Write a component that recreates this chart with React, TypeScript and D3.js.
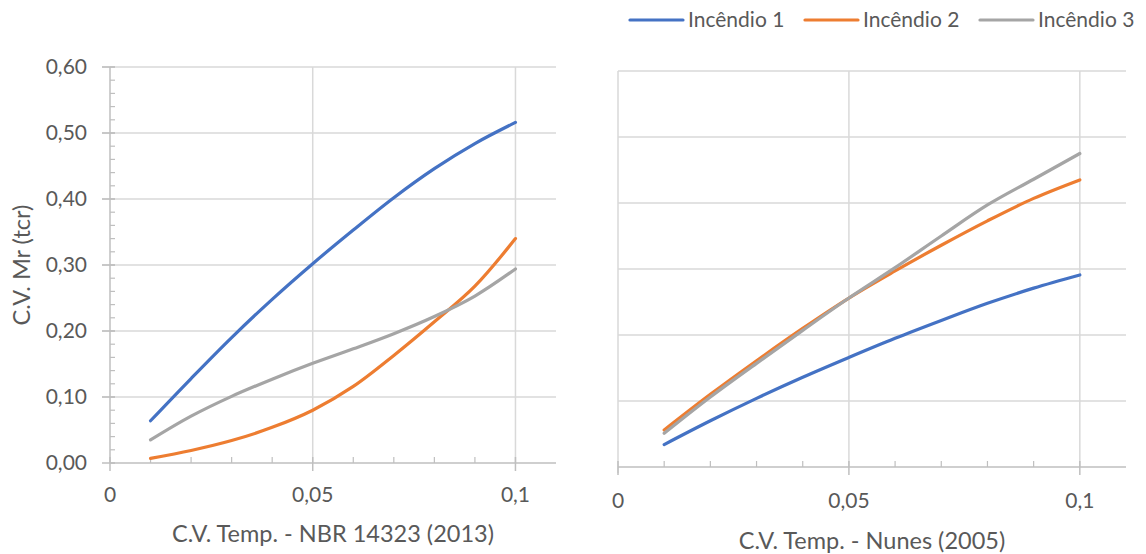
import React from "react";
import * as d3 from "d3";

const xValues = [0.01, 0.02, 0.03, 0.04, 0.05, 0.06, 0.07, 0.08, 0.09, 0.1];
const seriesNames = ["Incêndio 1", "Incêndio 2", "Incêndio 3"];
const colors = ["#4472C4", "#ED7D31", "#A5A5A5"];

// Left: C.V. Temp. - NBR 14323 (2013)
const nbrInc1 = [0.064, 0.128, 0.19, 0.248, 0.302, 0.353, 0.402, 0.446, 0.484, 0.516];
const nbrInc2 = [0.007, 0.019, 0.034, 0.054, 0.08, 0.116, 0.163, 0.214, 0.268, 0.34];
const nbrInc3 = [0.035, 0.071, 0.101, 0.127, 0.151, 0.173, 0.196, 0.222, 0.253, 0.294];

// Right: C.V. Temp. - Nunes (2005)
const nunesInc1 = [0.034, 0.07, 0.104, 0.136, 0.166, 0.195, 0.222, 0.248, 0.271, 0.291];
const nunesInc2 = [0.056, 0.11, 0.161, 0.21, 0.256, 0.297, 0.336, 0.373, 0.407, 0.435];
const nunesInc3 = [0.051, 0.106, 0.157, 0.207, 0.256, 0.302, 0.35, 0.397, 0.436, 0.475];

const yTicks = [0, 0.1, 0.2, 0.3, 0.4, 0.5, 0.6];
const xTicks = [0, 0.05, 0.1];
const yTitle = "C.V. Mr (tcr)";
const leftTitle = "C.V. Temp. - NBR 14323 (2013)";
const rightTitle = "C.V. Temp. - Nunes (2005)";

const FONT = "Lato, 'Open Sans', sans-serif";
const TEXT = "#595959";
const GRID = "#D9D9D9";
const AXIS = "#BFBFBF";
const FS = 21;
const TFS = 23.5;

const fmtX = (v: number) => (v === 0 ? "0" : String(v).replace(".", ","));
const fmtY = (v: number) => v.toFixed(2).replace(".", ",");

type PanelProps = {
  x0: number; x1: number; yTop: number; yBot: number;
  series: number[][]; title: string; showY: boolean; labelY: number; titleY: number;
};

function Panel({ x0, x1, yTop, yBot, series, title, showY, labelY, titleY }: PanelProps) {
  const x = d3.scaleLinear().domain([0, 0.11]).range([x0, x1]);
  const y = d3.scaleLinear().domain([0, 0.6]).range([yBot, yTop]);
  const line = d3
    .line<[number, number]>()
    .x((d) => x(d[0]))
    .y((d) => y(d[1]))
    .curve(d3.curveCatmullRom.alpha(0.5));
  const minorX = d3.range(1, 11).map((i) => i * 0.01).filter((v) => Math.abs(v - 0.05) > 1e-9 && Math.abs(v - 0.1) > 1e-9);
  const minorY = d3.range(0, 31).map((i) => i * 0.02);
  return (
    <g>
      {yTicks.filter((t) => t > 0).map((t) => (
        <line key={"hg" + t} x1={showY ? x0 - 8 : x0} x2={x1} y1={y(t)} y2={y(t)} stroke={GRID} strokeWidth={1.5} />
      ))}
      {xTicks.filter((t) => t > 0).map((t) => (
        <line key={"vg" + t} x1={x(t)} x2={x(t)} y1={yTop} y2={yBot} stroke={GRID} strokeWidth={1.5} />
      ))}
      {showY ? (
        <g>
          <line x1={x0} x2={x0} y1={yTop} y2={yBot} stroke={AXIS} strokeWidth={1.5} />
          {minorY.map((t) => (
            <line key={"my" + t} x1={x0} x2={x0 + 5} y1={y(t)} y2={y(t)} stroke={AXIS} strokeWidth={1.2} />
          ))}
          {yTicks.map((t) => (
            <line key={"My" + t} x1={x0 - 8} x2={x0 + 5} y1={y(t)} y2={y(t)} stroke={AXIS} strokeWidth={1.5} />
          ))}
          {yTicks.map((t) => (
            <text key={"ly" + t} x={87} y={y(t)} dy="0.35em" textAnchor="end" fontSize={FS} fontFamily={FONT} fill={TEXT}>
              {fmtY(t)}
            </text>
          ))}
        </g>
      ) : (
        <line x1={x0} x2={x0} y1={yTop} y2={yBot + 6} stroke={GRID} strokeWidth={1.5} />
      )}
      <line x1={x0} x2={x1} y1={yBot} y2={yBot} stroke={AXIS} strokeWidth={1.5} />
      {minorX.map((t) => (
        <line key={"mx" + t} x1={x(t)} x2={x(t)} y1={yBot - 6} y2={yBot} stroke={AXIS} strokeWidth={1.2} />
      ))}
      {xTicks.map((t) => (
        <line key={"Mx" + t} x1={x(t)} x2={x(t)} y1={yBot - 6} y2={yBot + 8} stroke={AXIS} strokeWidth={1.5} />
      ))}
      {xTicks.map((t) => (
        <text key={"lx" + t} x={x(t)} y={labelY} dy="0.35em" textAnchor="middle" fontSize={FS} fontFamily={FONT} fill={TEXT}>
          {fmtX(t)}
        </text>
      ))}
      <text x={(x0 + x1) / 2} y={titleY} dy="0.35em" textAnchor="middle" fontSize={TFS} fontFamily={FONT} fill={TEXT}>
        {title}
      </text>
      {series.map((s, i) => (
        <path
          key={"s" + i}
          d={line(xValues.map((xv, j) => [xv, s[j]] as [number, number])) || ""}
          fill="none"
          stroke={colors[i]}
          strokeWidth={3.2}
          strokeLinecap="round"
        />
      ))}
    </g>
  );
}

export default function App() {
  const legendX = [630, 805, 980];
  return (
    <svg width={1146} height={554} style={{ position: "absolute", left: 0, top: 0, background: "#fff" }}>
      <rect width={1146} height={554} fill="#fff" />
      <Panel x0={110} x1={556} yTop={67} yBot={463} series={[nbrInc1, nbrInc2, nbrInc3]} title={leftTitle} showY={true} labelY={495} titleY={534} />
      <Panel x0={618} x1={1126} yTop={71} yBot={467} series={[nunesInc1, nunesInc2, nunesInc3]} title={rightTitle} showY={false} labelY={501} titleY={541} />
      <text transform="translate(22,265) rotate(-90)" dy="0.35em" textAnchor="middle" fontSize={TFS} fontFamily={FONT} fill={TEXT}>
        {yTitle}
      </text>
      {seriesNames.map((n, i) => (
        <g key={"lg" + i}>
          <line x1={legendX[i]} x2={legendX[i] + 53} y1={20} y2={20} stroke={colors[i]} strokeWidth={3.2} strokeLinecap="round" />
          <text x={legendX[i] + 58} y={20} dy="0.35em" fontSize={FS} fontFamily={FONT} fill={TEXT}>
            {n}
          </text>
        </g>
      ))}
    </svg>
  );
}
